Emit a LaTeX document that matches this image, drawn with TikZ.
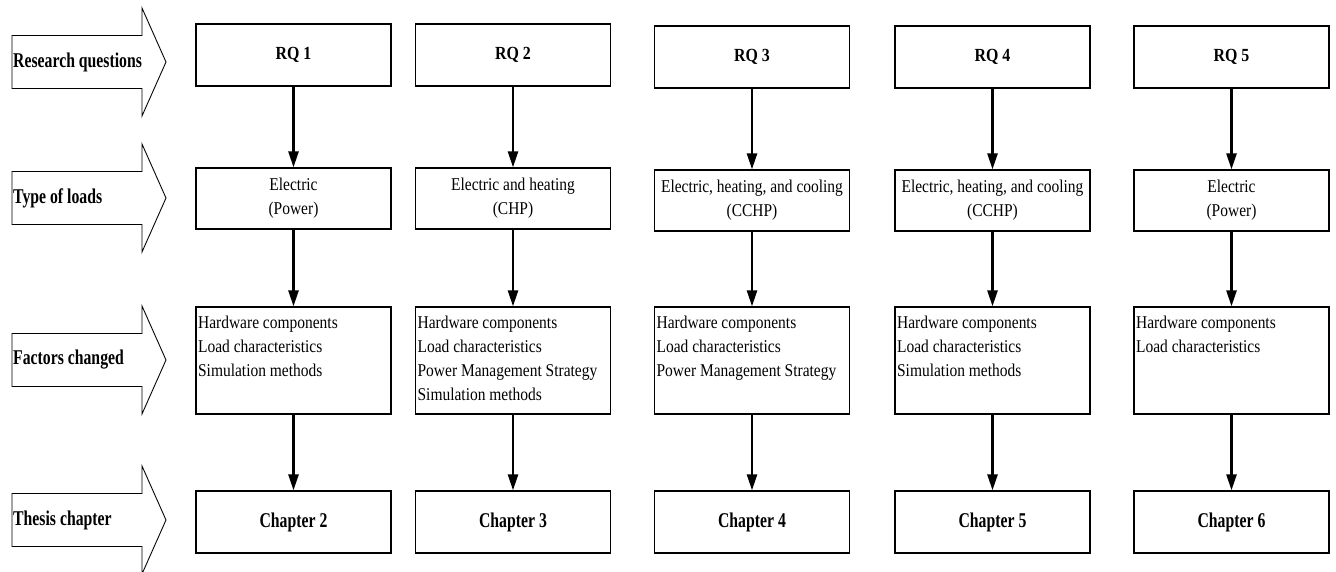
\documentclass[tikz,border=0pt]{standalone}
\usepackage{fontspec}
\setmainfont{Liberation Serif}[FakeStretch=0.86]
\newfontfamily\narrowserif{Liberation Serif}[FakeStretch=0.75]
\usetikzlibrary{arrows.meta}

\begin{document}
\begin{tikzpicture}[x=1pt,y=-1pt,
  box/.style={draw, line width=1.2pt, minimum width=195pt, inner sep=0pt,
    align=center, font=\fontsize{18}{24.3}\selectfont},
  rqbox/.style={box, minimum height=62pt, font=\fontsize{18.5}{24}\selectfont\bfseries},
  loadbox/.style={box, minimum height=61pt},
  factorbox/.style={box, minimum height=107pt},
  chapbox/.style={box, minimum height=62pt, font=\narrowserif\fontsize{21}{24}\selectfont\bfseries},
  factortext/.style={anchor=north west, inner sep=0pt, align=left,
    font=\fontsize{18}{24.3}\selectfont},
  rowlabel/.style={anchor=west, inner sep=0pt, font=\narrowserif\fontsize{21}{24}\selectfont\bfseries},
  blockarrow/.style={draw, line width=0.9pt, line join=miter},
  conn/.style={line width=2.5pt, -{Triangle[length=16pt,width=10pt]}}
]
\useasboundingbox (0,0) rectangle (1336,572);

% row headings: hollow block arrows on the left
\foreach \cy/\nm/\txt in {62/lrq/Research questions, 198/lty/Type of loads,
                          360/lfa/Factors changed, 520/lth/Thesis chapter}{
  \draw[blockarrow] (12,\cy-26.5) -- (142,\cy-26.5) -- (142,\cy-54) -- (166,\cy)
    -- (142,\cy+54) -- (142,\cy+26.5) -- (12,\cy+26.5) -- cycle;
  \node[rowlabel] (\nm) at (13,\cy) {\txt};
}

% research questions
\node[rqbox] (rq1) at (293.5,55) {RQ 1};
\node[rqbox] (rq2) at (513,55)   {RQ 2};
\node[rqbox] (rq3) at (752,57)   {RQ 3};
\node[rqbox] (rq4) at (992.5,57) {RQ 4};
\node[rqbox] (rq5) at (1231.5,57){RQ 5};

% type of loads
\node[loadbox] (ty1) at (293.5,198.5) {Electric\\(Power)};
\node[loadbox] (ty2) at (513,198.5)   {Electric and heating\\(CHP)};
\node[loadbox] (ty3) at (752,200.5)   {Electric, heating, and cooling\\(CCHP)};
\node[loadbox] (ty4) at (992.5,200.5) {Electric, heating, and cooling\\(CCHP)};
\node[loadbox] (ty5) at (1231.5,200.5){Electric\\(Power)};

% factors changed
\node[factorbox] (fa1) at (293.5,360.5) {};
\node[factorbox] (fa2) at (513,360.5)   {};
\node[factorbox] (fa3) at (752,360.5)   {};
\node[factorbox] (fa4) at (992.5,360.5) {};
\node[factorbox] (fa5) at (1231.5,360.5){};
\node[factortext] (fa1t) at ([xshift=2.5pt,yshift=-9pt]fa1.north west)
  {Hardware components\\Load characteristics\\Simulation methods};
\node[factortext] (fa2t) at ([xshift=2.5pt,yshift=-9pt]fa2.north west)
  {Hardware components\\Load characteristics\\Power Management Strategy\\Simulation methods};
\node[factortext] (fa3t) at ([xshift=2.5pt,yshift=-9pt]fa3.north west)
  {Hardware components\\Load characteristics\\Power Management Strategy};
\node[factortext] (fa4t) at ([xshift=2.5pt,yshift=-9pt]fa4.north west)
  {Hardware components\\Load characteristics\\Simulation methods};
\node[factortext] (fa5t) at ([xshift=2.5pt,yshift=-9pt]fa5.north west)
  {Hardware components\\Load characteristics};

% thesis chapters
\node[chapbox] (ch1) at (293.5,522) {Chapter 2};
\node[chapbox] (ch2) at (513,522)   {Chapter 3};
\node[chapbox] (ch3) at (752,522)   {Chapter 4};
\node[chapbox] (ch4) at (992.5,522) {Chapter 5};
\node[chapbox] (ch5) at (1231.5,522){Chapter 6};

% connectors down each column
\foreach \i in {1,...,5}{
  \draw[conn] (rq\i) -- (ty\i);
  \draw[conn] (ty\i) -- (fa\i);
  \draw[conn] (fa\i) -- (ch\i);
}
\end{tikzpicture}
\end{document}
